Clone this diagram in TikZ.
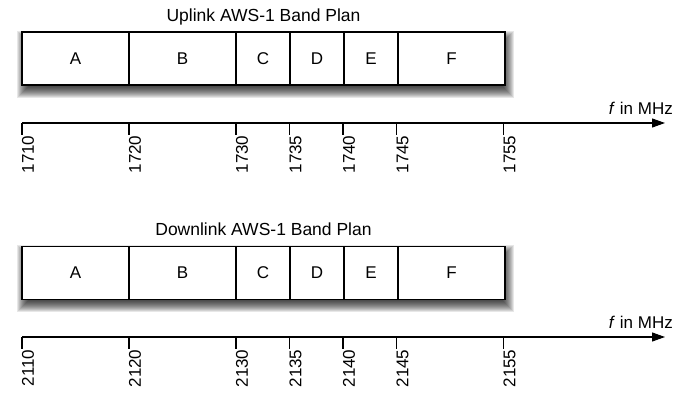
\documentclass[tikz,border=0pt]{standalone}
\usepackage{fontspec}
\setmainfont{Liberation Sans}
\usetikzlibrary{arrows.meta, backgrounds, positioning}
\tikzset{%
>={Triangle[width=9pt,length=13pt]},
  % Specifications for style of nodes:
            cell/.style = {rectangle, draw=black, line width=1.1pt, fill=white,
                            minimum height=53pt, inner sep=0pt, outer sep=0pt,
                            font=\fontsize{17}{20}\selectfont},
            tick/.style = {line width=1.1pt},
            ticklabel/.style = {rotate=90, anchor=east, inner sep=0pt, yshift=-6pt,
                            font=\fontsize{17}{20}\selectfont},
            unit/.style = {anchor=base east, inner sep=0pt, font=\fontsize{17}{20}\selectfont},
            title/.style = {anchor=base, inner sep=0pt, font=\fontsize{17.5}{20}\selectfont},
            shadowlayer/.style = {fill=black, opacity=0.095}
}
\begin{document}
\begin{tikzpicture}[x=1pt, y=-1pt]
                \useasboundingbox (0,0) rectangle (689,398);

                % uplink
                \node[title] (uptitle) at (263.5,22) {Uplink AWS-1 Band Plan};
                \node[cell, minimum width=107pt] (uA) at (75.5,58.5) {A};
                \node[cell, minimum width=107pt, right=0pt of uA] (uB) {B};
                \node[cell, minimum width=54pt, right=0pt of uB] (uC) {C};
                \node[cell, minimum width=54pt, right=0pt of uC] (uD) {D};
                \node[cell, minimum width=54pt, right=0pt of uD] (uE) {E};
                \node[cell, minimum width=107pt, right=0pt of uE] (uF) {F};
                \begin{scope}[on background layer]
                \foreach \j in {0,...,11}
                    \fill[shadowlayer] ([xshift=6pt-\j pt, yshift=\j pt-10pt]uA.north west) rectangle ([xshift=\j pt-2pt, yshift=-2pt-\j pt]uF.south east);
                \end{scope}

                \coordinate (upstart) at (22,123);
                \coordinate (upend) at (665,123);
                \draw[tick, ->] (upstart) -- (upend);
                \node[unit] (upunit) at (673,115) {\textit{f} in MHz};
                \foreach \f in {1710,1720,1730,1735,1740,1745,1755}{
                    \pgfmathsetmacro\tx{22+(\f-1710)*10.7}
                    \coordinate (ut\f) at (\tx,123);
                    \draw[tick] (ut\f) -- ++(0,12) node[ticklabel] {\f};
                }

                % downlink
                \node[title] (downtitle) at (263.5,236) {Downlink AWS-1 Band Plan};
                \node[cell, minimum width=107pt] (dA) at (75.5,273) {A};
                \node[cell, minimum width=107pt, right=0pt of dA] (dB) {B};
                \node[cell, minimum width=54pt, right=0pt of dB] (dC) {C};
                \node[cell, minimum width=54pt, right=0pt of dC] (dD) {D};
                \node[cell, minimum width=54pt, right=0pt of dD] (dE) {E};
                \node[cell, minimum width=107pt, right=0pt of dE] (dF) {F};
                \begin{scope}[on background layer]
                \foreach \j in {0,...,11}
                    \fill[shadowlayer] ([xshift=6pt-\j pt, yshift=\j pt-10pt]dA.north west) rectangle ([xshift=\j pt-2pt, yshift=-2pt-\j pt]dF.south east);
                \end{scope}

                \coordinate (downstart) at (22,337);
                \coordinate (downend) at (665,337);
                \draw[tick, ->] (downstart) -- (downend);
                \node[unit] (downunit) at (673,329) {\textit{f} in MHz};
                \foreach \f in {2110,2120,2130,2135,2140,2145,2155}{
                    \pgfmathsetmacro\tx{22+(\f-2110)*10.7}
                    \coordinate (dt\f) at (\tx,337);
                    \draw[tick] (dt\f) -- ++(0,12) node[ticklabel] {\f};
                }

            \end{tikzpicture}
\end{document}
